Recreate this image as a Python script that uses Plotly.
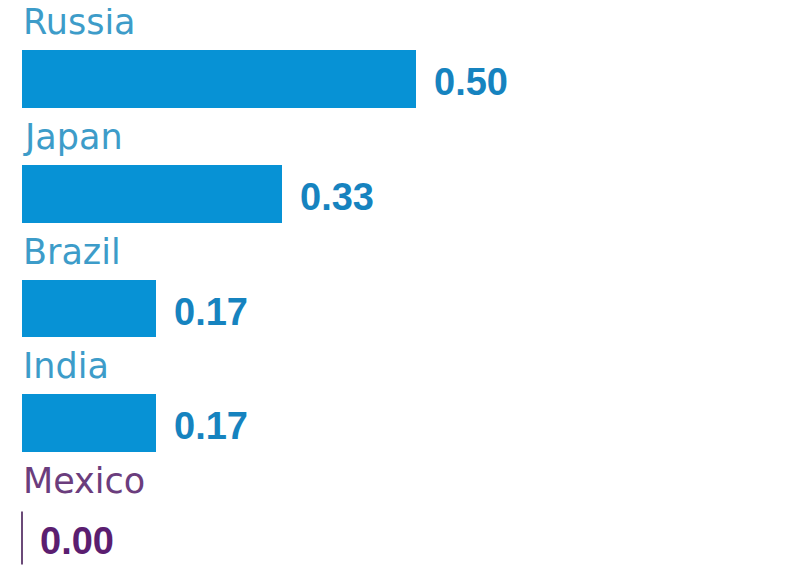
import plotly.graph_objects as go

countries = ["Russia", "Japan", "Brazil", "India", "Mexico"]
values = [0.50, 0.33, 0.17, 0.17, 0.00]
value_labels = ["0.50", "0.33", "0.17", "0.17", "0.00"]

BAR = "#0792d5"
NAME_BLUE = "#3d9cc9"
VAL_BLUE = "#1683bf"
NAME_PURPLE = "#6b3d7d"
VAL_PURPLE = "#5b1e70"

idx = list(range(len(countries)))
pos_vals = [v for v in values if v > 0]
pos_idx = [i for i, v in zip(idx, values) if v > 0]

fig = go.Figure()
fig.add_trace(go.Bar(
    x=pos_vals, y=pos_idx, orientation="h", base=0,
    marker=dict(color=BAR, line=dict(width=0)), width=0.505,
    hoverinfo="skip", showlegend=False,
))

for i, (c, v, lab) in enumerate(zip(countries, values, value_labels)):
    zero = v == 0
    fig.add_annotation(x=0, y=i, xref="x", yref="y", text=c, showarrow=False,
                       xanchor="left", yanchor="middle", xshift=-1, yshift=57,
                       font=dict(family="DejaVu Sans", size=35,
                                 color=NAME_PURPLE if zero else NAME_BLUE))
    fig.add_annotation(x=v, y=i, xref="x", yref="y", text="<b>%s</b>" % lab, showarrow=False,
                       xanchor="left", yanchor="middle", xshift=16, yshift=-3,
                       font=dict(family="Liberation Sans", size=38,
                                 color=VAL_PURPLE if zero else VAL_BLUE))
    if zero:
        fig.add_shape(type="line", xref="x", yref="y", x0=v, x1=v, y0=i - 0.23, y1=i + 0.23,
                      line=dict(color="#6b4a78", width=2))

fig.update_layout(
    width=800, height=584, margin=dict(l=0, r=0, t=0, b=0),
    paper_bgcolor="white", plot_bgcolor="white",
    xaxis=dict(range=[-0.017766, 0.99746], visible=False, fixedrange=True),
    yaxis=dict(range=[4.47056, -0.61874], visible=False, fixedrange=True),
    bargap=0,
)
fig.write_html("out.html")
